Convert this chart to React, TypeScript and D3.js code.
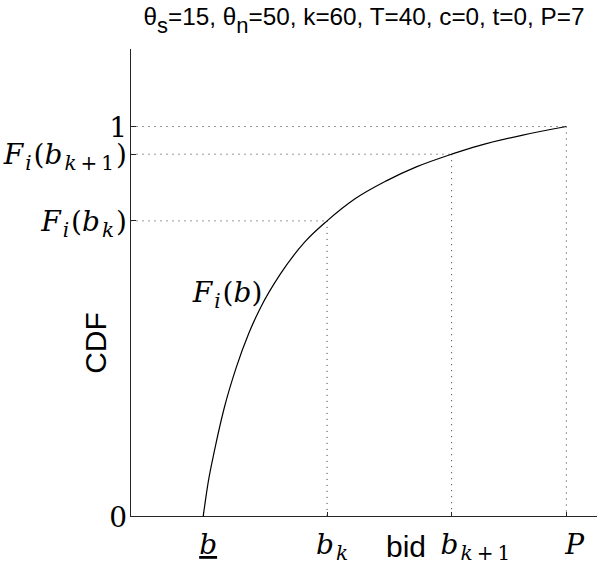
import React from 'react';
import * as d3 from 'd3';

// bid vs cumulative probability
const bidValues = [1.167, 1.25, 1.35, 1.5, 1.7, 1.9, 2.1, 2.4, 2.8, 3.157, 3.6, 4.1, 4.6, 5.157, 5.6, 6.3, 7.0];
const cdfValues = [0, 0.09, 0.17, 0.275, 0.383, 0.47, 0.539, 0.62, 0.704, 0.758, 0.814, 0.86, 0.897, 0.929, 0.951, 0.978, 1.0];

const xTickValues = [1.167, 3.157, 5.157, 7];
const xTickLabels = ['\\underline{b}', 'b_k', 'b_{k+1}', 'P'];
const yTickValues = [0, 0.758, 0.929, 1];
const yTickLabels = ['0', 'F_i(b_k)', 'F_i(b_{k+1})', '1'];

// guide points (b_k, F(b_k)), (b_k+1, F(b_k+1)), (P, 1)
const guideIdx = [1, 2, 3];

const curveLabel = 'F_i(b)';
const curveLabelAt = [1.0, 0.55];
const title = 'θ_s=15, θ_n=50, k=60, T=40, c=0, t=0, P=7';
const xLabel = 'bid';
const yLabel = 'CDF';

const W = 597;
const H = 566;
const SERIF = '"DejaVu Serif", "Liberation Serif", serif';
const SANS = '"Liberation Sans", Arial, sans-serif';

type Part = { text: string; sub: boolean; italic: boolean; underline: boolean };

// tiny TeX-ish parser: _x, _{..}, \underline{..}
function parseTex(s: string, math: boolean): Part[] {
  const parts: Part[] = [];
  const push = (txt: string, sub: boolean, underline = false) => {
    for (const ch of txt) {
      const italic = math && /[A-Za-z]/.test(ch);
      const last = parts[parts.length - 1];
      if (last && last.sub === sub && last.italic === italic && last.underline === underline) last.text += ch;
      else parts.push({ text: ch, sub, italic, underline });
    }
  };
  let i = 0;
  while (i < s.length) {
    if (s.startsWith('\\underline{', i)) {
      const end = s.indexOf('}', i);
      push(s.slice(i + 11, end), false, true);
      i = end + 1;
    } else if (s[i] === '_') {
      let content;
      if (s[i + 1] === '{') {
        const end = s.indexOf('}', i);
        content = s.slice(i + 2, end);
        i = end + 1;
      } else {
        content = s[i + 1];
        i += 2;
      }
      push(math ? content.replace(/\+/g, '\u2009+\u2009') : content, true);
    } else {
      push(s[i], false);
      i++;
    }
  }
  return parts;
}

function TexText(props: any) {
  const { s, math, size, subSize, subShift, subGap = 0, family, ...rest } = props;
  const parts = parseTex(s, math);
  let inSub = false;
  return (
    <text fontFamily={family} fontSize={size} fill="#000" {...rest}>
      {parts.map((p, i) => {
        let dy = 0;
        let dx = 0;
        if (p.sub && !inSub) {
          dy = subShift;
          dx = subGap;
        }
        if (!p.sub && inSub) {
          dy = -subShift;
          dx = subGap;
        }
        inSub = p.sub;
        return (
          <tspan
            key={i}
            dy={dy || undefined}
            dx={dx || undefined}
            fontSize={p.sub ? subSize : size}
            fontStyle={p.italic ? 'italic' : 'normal'}
            style={p.underline ? { textDecoration: 'underline' } : undefined}
          >
            {p.text}
          </tspan>
        );
      })}
    </text>
  );
}

export default function App() {
  const x = d3.scaleLinear().domain([0, 7.5]).range([130.5, 597.5]);
  const y = d3.scaleLinear().domain([0, 1.2]).range([516.5, 48.5]);

  const pts = bidValues.map((b, i) => [b, cdfValues[i]] as [number, number]);
  const path = d3
    .line<[number, number]>()
    .x(d => x(d[0]))
    .y(d => y(d[1]))
    .curve(d3.curveMonotoneX)(pts);

  const x0 = x(0);
  const y0 = y(0);
  const xEnd = x(7.5);
  const yTop = y(1.2);
  const xTickDx = [-4, -11, -11, -1];

  const mathProps = { math: true, family: SERIF, size: 28, subSize: 20, subShift: 6, subGap: 2 };

  return (
    <svg width={W} height={H} style={{ position: 'absolute', left: 0, top: 0, background: '#fff' }}>
      {/* title */}
      <TexText
        s={title}
        math={false}
        family={SANS}
        size={24.3}
        subSize={22}
        subShift={8}
        x={(x0 + xEnd) / 2}
        y={25}
        textAnchor="middle"
      />

      {/* dotted guides */}
      <g stroke="#333" strokeWidth={1} strokeDasharray="1 5" fill="none">
        {guideIdx.map(i => (
          <g key={i}>
            <line x1={x0} x2={x(xTickValues[i])} y1={y(yTickValues[i])} y2={y(yTickValues[i])} />
            <line x1={x(xTickValues[i])} x2={x(xTickValues[i])} y1={y(yTickValues[i])} y2={y0} />
          </g>
        ))}
      </g>

      {/* axes */}
      <g stroke="#262626" strokeWidth={1} shapeRendering="crispEdges">
        <line x1={x0} x2={x0} y1={yTop} y2={y0} />
        <line x1={x0} x2={xEnd} y1={y0} y2={y0} />
        {xTickValues.map((v, i) => (
          <line key={'xt' + i} x1={x(v)} x2={x(v)} y1={y0} y2={y0 - 5} />
        ))}
        {yTickValues.map((v, i) => (
          <line key={'yt' + i} x1={x0} x2={x0 + 5} y1={y(v)} y2={y(v)} />
        ))}
      </g>

      {/* CDF curve */}
      <path d={path || ''} fill="none" stroke="#000" strokeWidth={1.2} />

      {/* y tick labels */}
      {yTickValues.map((v, i) => (
        <TexText key={'yl' + i} s={yTickLabels[i]} {...mathProps} x={127} y={y(v) + 10} textAnchor="end" />
      ))}

      {/* x tick labels */}
      {xTickValues.map((v, i) => (
        <TexText key={'xl' + i} s={xTickLabels[i]} {...mathProps} x={x(v) + xTickDx[i]} y={554} textAnchor="start" />
      ))}

      {/* curve label */}
      <TexText s={curveLabel} {...mathProps} x={x(curveLabelAt[0])} y={y(curveLabelAt[1])} />

      {/* axis labels */}
      <text x={406} y={557} textAnchor="middle" fontFamily={SANS} fontSize={30} fill="#000">
        {xLabel}
      </text>
      <text
        transform={`translate(106,343) rotate(-90)`}
        textAnchor="middle"
        fontFamily={SANS}
        fontSize={30}
        fill="#000"
      >
        {yLabel}
      </text>
    </svg>
  );
}
